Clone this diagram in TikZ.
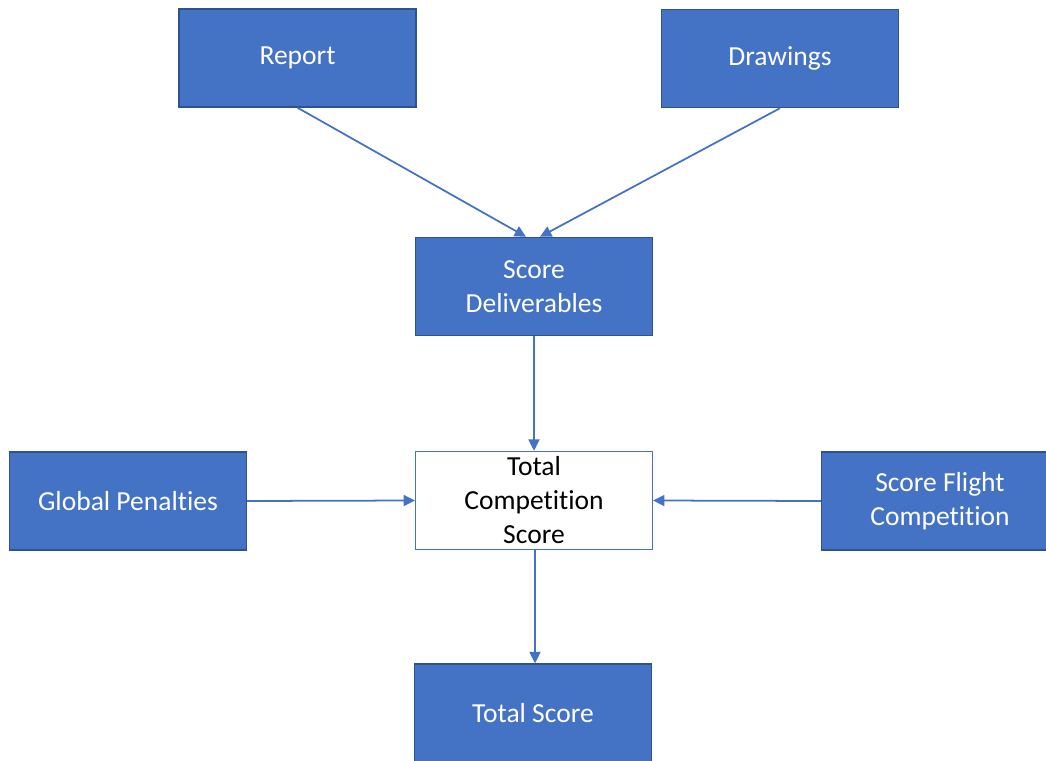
\documentclass[tikz,border=0pt]{standalone}
\usepackage{fontspec}
\setmainfont{Carlito}
\usetikzlibrary{arrows.meta,calc}
\definecolor{bxfill}{HTML}{4472C4}
\definecolor{bxline}{HTML}{2F528F}
% t and i kept apart (no "ti" ligature)
\newcommand{\tni}{t\kern0pt i}
\tikzset{
  bx/.style={rectangle,draw=bxline,fill=bxfill,line width=1.2pt,text=white,
    minimum width=7.1cm,minimum height=2.94cm,inner sep=2pt,align=center,
    font=\fontsize{23.5}{29}\selectfont},
  bxw/.style={bx,draw=bxfill,fill=white,text=black},
  lnk/.style={-{Triangle[length=3.4mm,width=3.3mm]},draw=bxfill,fill=bxfill,line width=1.5pt},
}
\begin{document}
\begin{tikzpicture}[x=0.03cm,y=-0.03cm]
\useasboundingbox (0,0) rectangle (1046,760);
% ---- inputs
\node[bx] (rep) at (297.5,58) {Report};
\node[bx] (drw) at (780,58.5) {Drawings};
\node[bx] (sd) at (534,286.5) {Score\\ Deliverables};
% ---- middle row
\node[bx] (gp) at (128,501) {Global Penal\tni es};
\node[bxw] (tcs) at (534,500.5) {Total\\ Compe\tni\tni on\\ Score};
\node[bx] (sfc) at (940,501) {Score Flight\\ Compe\tni\tni on};
% ---- output
\node[bx] (ts) at (533,713) {Total Score};
\draw[lnk] (rep.south) -- ($(sd.north)+(-8,0)$);
\draw[lnk] (drw.south) -- ($(sd.north)+(6,0)$);
\draw[lnk] (sd.south) -- (tcs.north);
\draw[lnk] (gp.east) -- (tcs.west);
\draw[lnk] (sfc.west) -- (tcs.east);
\draw[lnk] ($(tcs.south)+(1,0)$) -- ($(ts.north)+(2,0)$);
\end{tikzpicture}
\end{document}
